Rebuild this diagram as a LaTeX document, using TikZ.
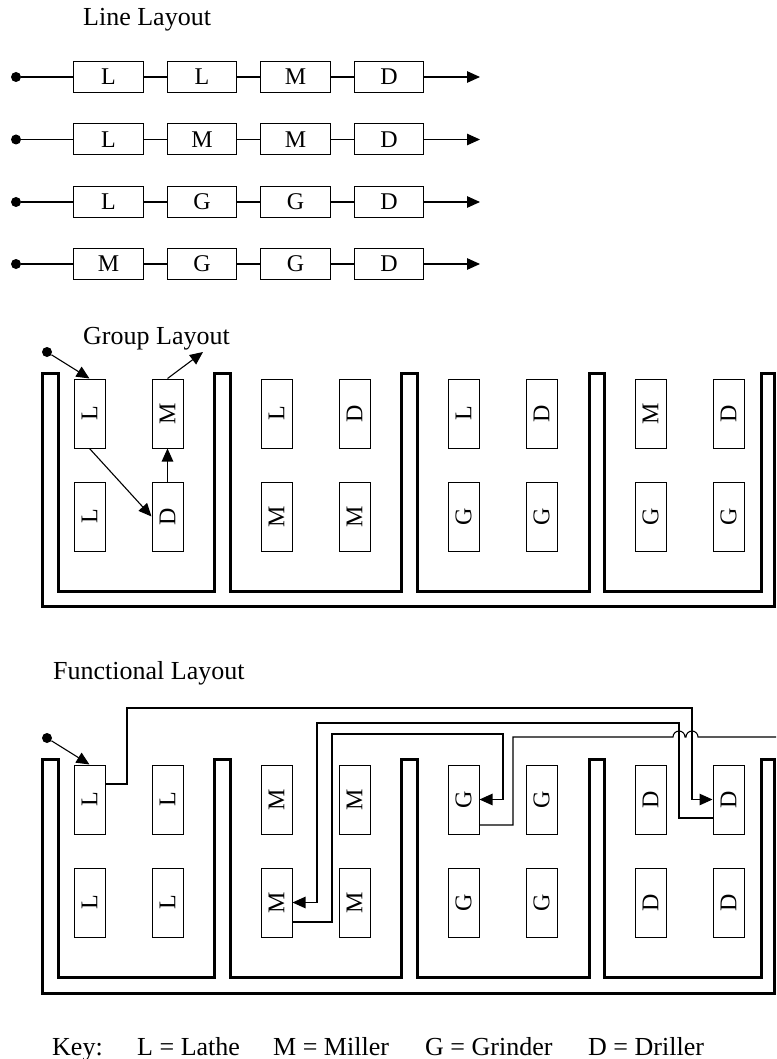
\documentclass[tikz,border=0pt]{standalone}
\usepackage{fontspec}
\setmainfont{Liberation Serif}
\usetikzlibrary{arrows.meta}
\begin{document}
\begin{tikzpicture}[x=1pt,y=-1pt,
  hbox/.style={draw,line width=1pt,minimum width=69.5pt,minimum height=31pt,inner sep=0pt,font=\fontsize{24}{28}\selectfont},
  vbox/.style={draw,line width=1pt,minimum width=31pt,minimum height=69pt,inner sep=0pt,font=\fontsize{24}{28}\selectfont},
  title/.style={anchor=base west,inner sep=0pt,font=\fontsize{26}{30}\selectfont},
  conn/.style={line width=1.1pt},
  arr/.style={conn,-{Triangle[length=13pt,width=11.5pt]}},
  dot/.style={circle,fill,inner sep=0pt,minimum size=10pt},
  wall/.style={line width=3pt,line join=miter}]
\useasboundingbox (0,0) rectangle (776,1059);

% ---------------- Line layout ----------------
\node[title] (t1) at (83,26) {Line Layout};
\foreach \y/\p/\q/\r/\s [count=\k] in {77/L/L/M/D, 139.5/L/M/M/D, 202/L/G/G/D, 264/M/G/G/D} {
  \node[dot] (ld\k) at (16,\y) {};
  \node[hbox] (l\k a) at (108.5,\y) {\p};
  \node[hbox] (l\k b) at (202,\y) {\q};
  \node[hbox] (l\k c) at (295.5,\y) {\r};
  \node[hbox] (l\k d) at (389,\y) {\s};
  \coordinate (le\k) at (480,\y);
  \draw[conn] (ld\k) -- (l\k a);
  \draw[conn] (l\k a) -- (l\k b);
  \draw[conn] (l\k b) -- (l\k c);
  \draw[conn] (l\k c) -- (l\k d);
  \draw[arr] (l\k d) -- (le\k);
}

% ---------------- Group layout ----------------
\node[title] (t2) at (83,344) {Group Layout};
\draw[wall] (42.7,373.3) -- (58.3,373.3) -- (58.3,591) -- (214,591) -- (214,373.3) -- (230,373.3)
  -- (230,591) -- (401.7,591) -- (401.7,373.3) -- (417.3,373.3) -- (417.3,591) -- (589.3,591)
  -- (589.3,373.3) -- (604.3,373.3) -- (604.3,591) -- (761,591) -- (761,373.3) -- (774.5,373.3)
  -- (774.5,606.7) -- (42.7,606.7) -- cycle;
\foreach \p/\q/\r/\s [count=\k from 0] in {L/M/L/D, L/D/M/M, L/D/G/G, M/D/G/G} {
  \node[vbox] (g\k a) at (89.5+187*\k,413.5) {\rotatebox{90}{\p}};
  \node[vbox] (g\k b) at (167.5+187*\k,413.5) {\rotatebox{90}{\q}};
  \node[vbox] (g\k c) at (89.5+187*\k,516.5) {\rotatebox{90}{\r}};
  \node[vbox] (g\k d) at (167.5+187*\k,516.5) {\rotatebox{90}{\s}};
}
\node[dot] (gdot) at (47,352) {};
\coordinate (gout) at (203,352);
\draw[arr] (gdot) -- (g0a.north);
\draw[arr] (g0a.south) -- (g0d.west);
\draw[arr] (g0d.north) -- (g0b.south);
\draw[arr] (g0b.north) -- (gout);

% ---------------- Functional layout ----------------
\node[title] (t3) at (53,679) {Functional Layout};
\draw[wall] (42.7,759.3) -- (58.3,759.3) -- (58.3,977.3) -- (214,977.3) -- (214,759.3) -- (230,759.3)
  -- (230,977.3) -- (401.7,977.3) -- (401.7,759.3) -- (417.3,759.3) -- (417.3,977.3) -- (589.3,977.3)
  -- (589.3,759.3) -- (604.3,759.3) -- (604.3,977.3) -- (761,977.3) -- (761,759.3) -- (774.5,759.3)
  -- (774.5,993.3) -- (42.7,993.3) -- cycle;
\foreach \p [count=\k from 0] in {L, M, G, D} {
  \node[vbox] (f\k a) at (89.5+187*\k,799.5) {\rotatebox{90}{\p}};
  \node[vbox] (f\k b) at (167.5+187*\k,799.5) {\rotatebox{90}{\p}};
  \node[vbox] (f\k c) at (89.5+187*\k,902.5) {\rotatebox{90}{\p}};
  \node[vbox] (f\k d) at (167.5+187*\k,902.5) {\rotatebox{90}{\p}};
}
\node[dot] (fdot) at (47,738) {};
\draw[arr] (fdot) -- (f0a.north);
% L -> D
\draw[arr] (f0a.east |- 0,784) -- (127,784) -- (127,708) -- (692,708) -- (692,799.5) -- (f3b.west);
% D -> M
\draw[arr] (f3b.west |- 0,818) -- (679,818) -- (679,723) -- (317,723) -- (317,902.5) -- (f1c.east);
% M -> G
\draw[arr] (f1c.east |- 0,922) -- (332,922) -- (332,734) -- (503,734) -- (503,799.5) -- (f2a.east);
% G -> out, with jumps
\coordinate (fout) at (776,737);
\draw[conn] (f2a.east |- 0,825) -- (513,825) -- (513,737) -- (673,737)
  arc[start angle=180,end angle=360,radius=6] -- (686,737)
  arc[start angle=180,end angle=360,radius=6] -- (fout);

% ---------------- Key ----------------
\node[title] (k0) at (52,1055) {Key:};
\node[title] (k1) at (137,1055) {L = Lathe};
\node[title] (k2) at (273,1055) {M = Miller};
\node[title] (k3) at (425,1055) {G = Grinder};
\node[title] (k4) at (588,1055) {D = Driller};
\end{tikzpicture}
\end{document}
